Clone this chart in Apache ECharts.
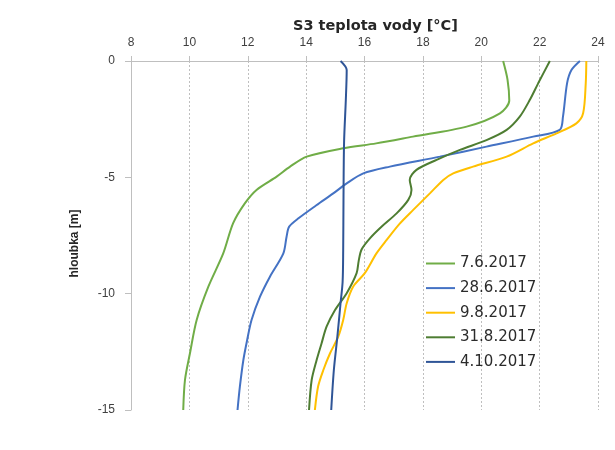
<!DOCTYPE html>
<html>
<head>
<meta charset="utf-8">
<script src="https://cdn.jsdelivr.net/npm/echarts@6/dist/echarts.min.js"></script>
<style>html,body{margin:0;padding:0;background:#fff}#c{width:615px;height:450px}</style>
</head>
<body>
<div id="c"></div>
<script>
const seriesNames = ['7.6.2017', '28.6.2017', '9.8.2017', '31.8.2017', '4.10.2017'];
const xTicks = [8, 10, 12, 14, 16, 18, 20, 22, 24];
const yTicks = [0, -5, -10, -15];

// [temperature °C, depth m]
const s0706 = [[20.75,0],[20.9,-0.8],[20.96,-1.7],[20.64,-2.25],[19.5,-2.82],[17.66,-3.25],[16.4,-3.54],[15.27,-3.75],[14.02,-4.11],[13.45,-4.54],[12.99,-4.97],[12.3,-5.54],[11.9,-6.12],[11.5,-6.97],[11.16,-8.27],[10.65,-9.7],[10.25,-11.13],[10.02,-12.56],[9.85,-13.7],[9.79,-15]];
const s2806 = [[23.38,0],[23.09,-0.39],[22.94,-0.96],[22.8,-2.39],[22.69,-2.96],[21.78,-3.25],[20.18,-3.68],[18.58,-4.11],[16.87,-4.54],[15.96,-4.83],[15.39,-5.26],[14.93,-5.69],[14.35,-6.2],[13.75,-6.75],[13.42,-7.12],[13.33,-7.55],[13.22,-8.27],[12.76,-9.27],[12.42,-10.13],[12.13,-11.13],[11.98,-11.99],[11.85,-12.85],[11.73,-14.0],[11.65,-15]];
const s0908 = [[23.6,0],[23.58,-0.96],[23.49,-2.25],[23.26,-2.68],[22.58,-3.11],[21.78,-3.54],[20.87,-4.11],[19.72,-4.54],[19.04,-4.83],[18.7,-5.11],[18.24,-5.69],[17.67,-6.4],[17.2,-7.0],[16.76,-7.69],[16.41,-8.27],[16.01,-9.12],[15.61,-9.7],[15.39,-10.41],[15.27,-11.13],[15.1,-11.85],[14.82,-12.56],[14.59,-13.28],[14.41,-13.99],[14.3,-15]];
const s3108 = [[22.35,0],[21.95,-0.96],[21.66,-1.68],[21.32,-2.39],[20.87,-2.96],[20.18,-3.4],[19.27,-3.82],[18.47,-4.25],[17.78,-4.68],[17.55,-5.11],[17.61,-5.54],[17.5,-5.97],[17.1,-6.55],[16.6,-7.1],[16.2,-7.6],[15.9,-8.1],[15.8,-8.6],[15.73,-9.12],[15.39,-9.98],[14.99,-10.7],[14.7,-11.42],[14.53,-12.13],[14.36,-12.85],[14.19,-13.71],[14.1,-15]];
const s0410 = [[15.18,0],[15.39,-0.39],[15.36,-1.68],[15.3,-3.5],[15.28,-6],[15.27,-8.12],[15.25,-9.5],[15.18,-10.4],[15.07,-11.85],[14.95,-13.28],[14.86,-15]];

const seriesData = [s0706, s2806, s0908, s3108, s0410];
const colors = ['#70AD47', '#4472C4', '#FFC000', '#4E7D32', '#2F5597'];

const chart = echarts.init(document.getElementById('c'), null, {renderer: 'canvas'});
chart.setOption({
  animation: false,
  backgroundColor: '#fff',
  textStyle: {fontFamily: 'Liberation Sans, Arial, sans-serif'},
  title: {
    text: 'S3 teplota vody [°C]', left: 288, top: 14,
    textStyle: {fontFamily: 'DejaVu Sans', fontWeight: 'bold', fontSize: 14.5, color: '#262626'}
  },
  grid: {left: 131, right: 17, top: 61, bottom: 40, containLabel: false},
  xAxis: {
    type: 'value', position: 'top', min: 8, max: 24, interval: 2,
    axisLine: {show: true, onZero: false, lineStyle: {color: '#bfbfbf', width: 1}},
    axisTick: {show: true, inside: false, length: 5, lineStyle: {color: '#bfbfbf'}},
    axisLabel: {fontSize: 12, color: '#404040', margin: 12,
      formatter: v => xTicks.includes(v) ? String(v) : ''},
    splitLine: {show: true, lineStyle: {color: '#bfbfbf', type: [2, 2], width: 1}}
  },
  yAxis: {
    type: 'value', min: -15, max: 0, interval: 5,
    name: 'hloubka [m]', nameLocation: 'middle', nameGap: 50, nameRotate: 90,
    nameTextStyle: {fontWeight: 'bold', fontSize: 12, color: '#262626', padding: [0, 16, 0, 0]},
    axisLine: {show: true, onZero: false, lineStyle: {color: '#bfbfbf', width: 1}},
    axisTick: {show: true, inside: false, length: 6, lineStyle: {color: '#bfbfbf'}},
    axisLabel: {fontSize: 12, color: '#404040', margin: 16,
      formatter: v => yTicks.includes(v) ? String(v) : ''},
    splitLine: {show: false}
  },
  legend: {
    orient: 'vertical', left: 421, top: 251,
    icon: 'rect', itemWidth: 29, itemHeight: 2, itemGap: 9.6,
    textStyle: {fontFamily: 'DejaVu Sans', fontSize: 15, color: '#2b2b2b'},
    data: seriesNames
  },
  series: seriesNames.map((n, i) => ({
    name: n, type: 'line', data: seriesData[i],
    smooth: 0.3, symbol: 'none', showSymbol: false,
    lineStyle: {color: colors[i], width: 2},
    itemStyle: {color: colors[i]},
    z: 2 + i
  }))
});
</script>
</body>
</html>
